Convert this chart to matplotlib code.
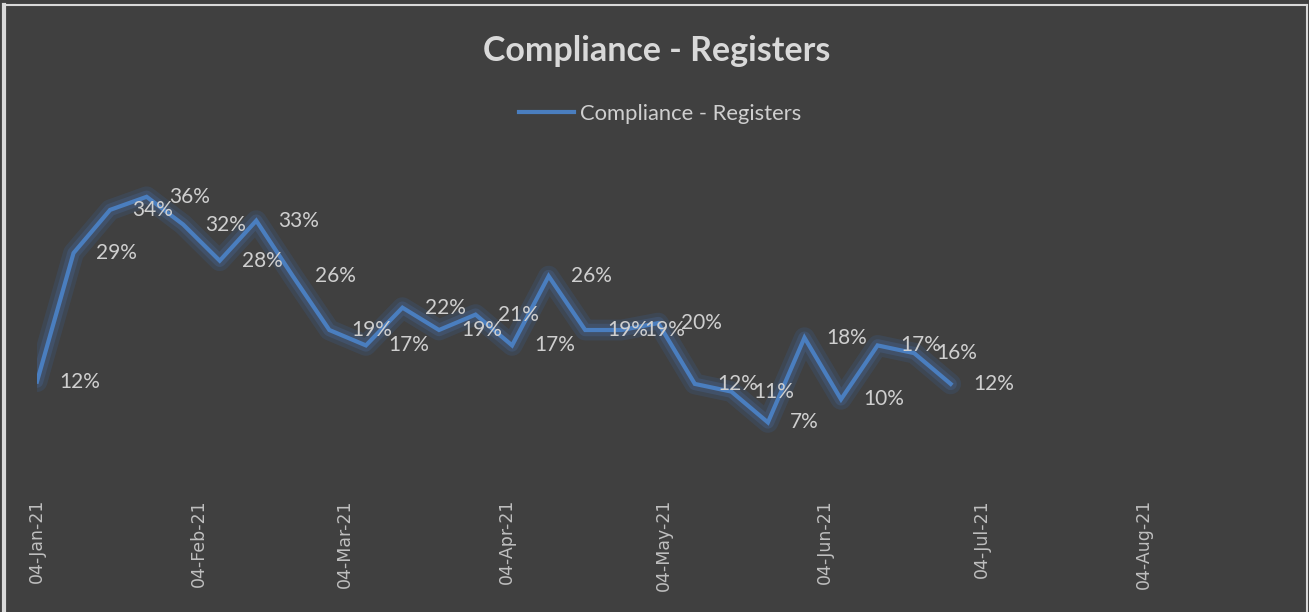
import matplotlib
matplotlib.use("Agg")
import matplotlib.pyplot as plt
import matplotlib.dates as mdates
from matplotlib.lines import Line2D
import pandas as pd

# weekly readings
week_start = ["2021-01-04", "2021-01-11", "2021-01-18", "2021-01-25", "2021-02-01",
              "2021-02-08", "2021-02-15", "2021-02-22", "2021-03-01", "2021-03-08",
              "2021-03-15", "2021-03-22", "2021-03-29", "2021-04-05", "2021-04-12",
              "2021-04-19", "2021-04-26", "2021-05-03", "2021-05-10", "2021-05-17",
              "2021-05-24", "2021-05-31", "2021-06-07", "2021-06-14", "2021-06-21",
              "2021-06-28"]
compliance = [0.120, 0.287, 0.343, 0.360, 0.324, 0.277, 0.329, 0.257, 0.187, 0.167,
              0.216, 0.187, 0.207, 0.167, 0.257, 0.187, 0.187, 0.196, 0.117, 0.107,
              0.067, 0.177, 0.097, 0.167, 0.157, 0.117]
month_ticks = ["2021-01-04", "2021-02-04", "2021-03-04", "2021-04-04",
               "2021-05-04", "2021-06-04", "2021-07-04", "2021-08-04"]

bg = "#404040"
blue = "#4a7ebf"
txt = "#cfcfcf"

dates = pd.to_datetime(week_start)

fig = plt.figure(figsize=(13.09, 6.12), dpi=100, facecolor=bg)
ax = fig.add_axes([37 / 1309, 138 / 612, (1290 - 37) / 1309, 308 / 612])
ax.set_facecolor(bg)

# soft glow under the line
ax.plot(dates, compliance, color="#3d5270", lw=15, alpha=0.4,
        solid_joinstyle="round", solid_capstyle="round")
ax.plot(dates, compliance, color="#445c80", lw=9, alpha=0.5,
        solid_joinstyle="round", solid_capstyle="round")
ax.plot(dates, compliance, color=blue, lw=3.0, solid_joinstyle="miter")

for d, v in zip(dates, compliance):
    ax.annotate(f"{v * 100:.0f}%", (d, v), xytext=(16, 0), textcoords="offset points",
                ha="left", va="center", fontsize=15, color=txt, family="Lato")

ax.set_xlim(pd.Timestamp("2021-01-04"), pd.Timestamp("2021-09-01"))
ax.set_ylim(0, 0.4)
ax.set_xticks(pd.to_datetime(month_ticks))
ax.xaxis.set_major_formatter(mdates.DateFormatter("%d-%b-%y"))
ax.tick_params(axis="x", length=0, pad=18, labelrotation=90, labelsize=12.5,
               labelcolor="#bfbfbf")
ax.set_yticks([])
for s in ax.spines.values():
    s.set_visible(False)

fig.text(657 / 1309, 1 - 51 / 612, "Compliance - Registers", ha="center", va="center",
         fontsize=24.5, fontweight="bold", color="#d9d9d9", family="Lato")

handle = Line2D([], [], color=blue, lw=3.0)
fig.legend([handle], ["Compliance - Registers"], loc="center",
           bbox_to_anchor=(660 / 1309, 1 - 114 / 612), frameon=False,
           handlelength=2.5, handletextpad=0.25,
           prop={"family": "Lato", "size": 15.8}, labelcolor=txt)

# light frame at left/top like the source sheet
fig.add_artist(Line2D([4 / 1309, 4 / 1309], [0, 1 - 5 / 612], color="#d9d9d9", lw=3,
                      transform=fig.transFigure))
fig.add_artist(Line2D([4 / 1309, 1307 / 1309], [1 - 5 / 612, 1 - 5 / 612], color="#d9d9d9",
                      lw=1.5, transform=fig.transFigure))
fig.add_artist(Line2D([1307 / 1309, 1307 / 1309], [0, 1 - 5 / 612], color="#d9d9d9",
                      lw=1.5, transform=fig.transFigure))

fig.savefig("out.png", dpi=100, facecolor=bg)
